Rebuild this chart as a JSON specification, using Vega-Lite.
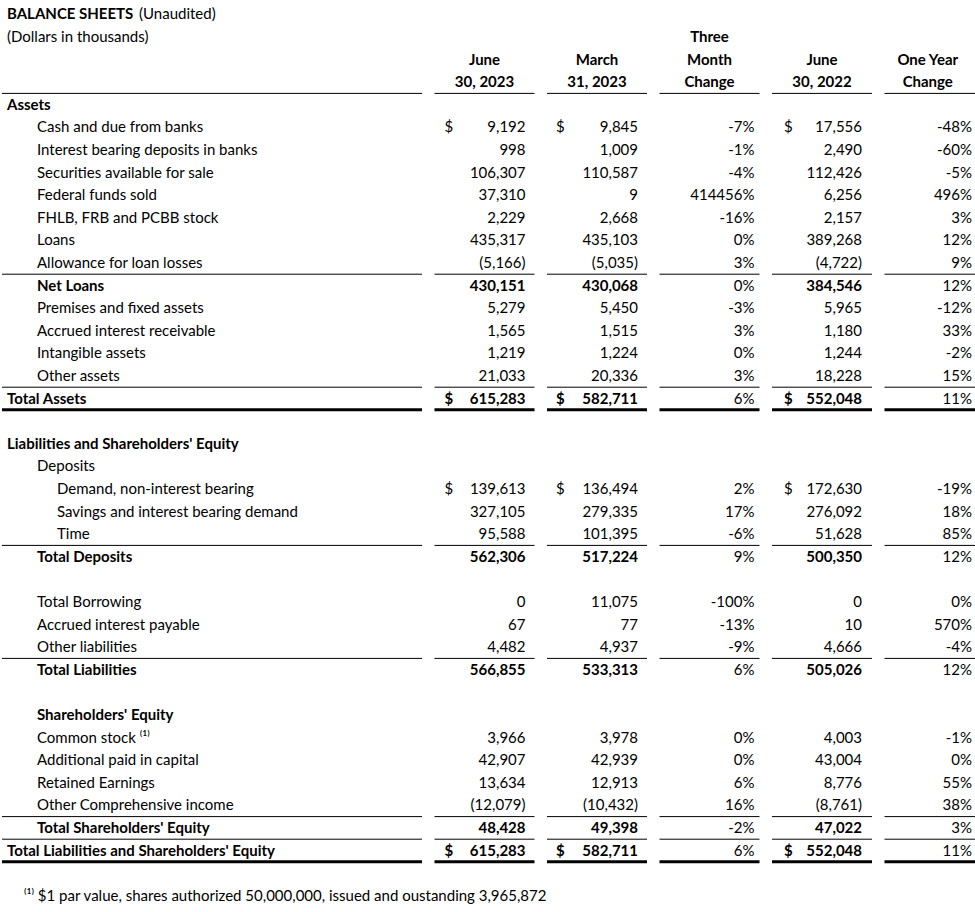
{
  "$schema": "https://vega.github.io/schema/vega-lite/v6.json",
  "background": "white",
  "padding": 0,
  "bounds": "flush",
  "spacing": 12.5,
  "datasets": {
    "rows": [
      {"r": -4, "label": "BALANCE SHEETS", "sub": "(Unaudited)", "kind": "title", "level": 0},
      {"r": -3, "label": "(Dollars in thousands)", "kind": "note", "level": 0},
      {"r": 0, "label": "Assets", "kind": "section", "level": 0},
      {"r": 1, "label": "Cash and due from banks", "kind": "item", "level": 1, "currency": "$", "jun23": 9192, "mar23": 9845, "chg3": -0.07, "jun22": 17556, "chg1": -0.48},
      {"r": 2, "label": "Interest bearing deposits in banks", "kind": "item", "level": 1, "jun23": 998, "mar23": 1009, "chg3": -0.01, "jun22": 2490, "chg1": -0.6},
      {"r": 3, "label": "Securities available for sale", "kind": "item", "level": 1, "jun23": 106307, "mar23": 110587, "chg3": -0.04, "jun22": 112426, "chg1": -0.05},
      {"r": 4, "label": "Federal funds sold", "kind": "item", "level": 1, "jun23": 37310, "mar23": 9, "chg3": 4144.56, "jun22": 6256, "chg1": 4.96},
      {"r": 5, "label": "FHLB, FRB and PCBB stock", "kind": "item", "level": 1, "jun23": 2229, "mar23": 2668, "chg3": -0.16, "jun22": 2157, "chg1": 0.03},
      {"r": 6, "label": "Loans", "kind": "item", "level": 1, "jun23": 435317, "mar23": 435103, "chg3": 0, "jun22": 389268, "chg1": 0.12},
      {"r": 7, "label": "Allowance for loan losses", "kind": "item", "level": 1, "jun23": -5166, "mar23": -5035, "chg3": 0.03, "jun22": -4722, "chg1": 0.09},
      {"r": 8, "label": "Net Loans", "kind": "total", "level": 1, "jun23": 430151, "mar23": 430068, "chg3": 0, "jun22": 384546, "chg1": 0.12},
      {"r": 9, "label": "Premises and fixed assets", "kind": "item", "level": 1, "jun23": 5279, "mar23": 5450, "chg3": -0.03, "jun22": 5965, "chg1": -0.12},
      {"r": 10, "label": "Accrued interest receivable", "kind": "item", "level": 1, "jun23": 1565, "mar23": 1515, "chg3": 0.03, "jun22": 1180, "chg1": 0.33},
      {"r": 11, "label": "Intangible assets", "kind": "item", "level": 1, "jun23": 1219, "mar23": 1224, "chg3": 0, "jun22": 1244, "chg1": -0.02},
      {"r": 12, "label": "Other assets", "kind": "item", "level": 1, "jun23": 21033, "mar23": 20336, "chg3": 0.03, "jun22": 18228, "chg1": 0.15},
      {"r": 13, "label": "Total Assets", "kind": "total", "level": 0, "currency": "$", "jun23": 615283, "mar23": 582711, "chg3": 0.06, "jun22": 552048, "chg1": 0.11},
      {"r": 15, "label": "Liabilities and Shareholders' Equity", "kind": "section", "level": 0},
      {"r": 16, "label": "Deposits", "kind": "item", "level": 1},
      {"r": 17, "label": "Demand, non-interest bearing", "kind": "item", "level": 2, "currency": "$", "jun23": 139613, "mar23": 136494, "chg3": 0.02, "jun22": 172630, "chg1": -0.19},
      {"r": 18, "label": "Savings and interest bearing demand", "kind": "item", "level": 2, "jun23": 327105, "mar23": 279335, "chg3": 0.17, "jun22": 276092, "chg1": 0.18},
      {"r": 19, "label": "Time", "kind": "item", "level": 2, "jun23": 95588, "mar23": 101395, "chg3": -0.06, "jun22": 51628, "chg1": 0.85},
      {"r": 20, "label": "Total Deposits", "kind": "total", "level": 1, "jun23": 562306, "mar23": 517224, "chg3": 0.09, "jun22": 500350, "chg1": 0.12},
      {"r": 22, "label": "Total Borrowing", "kind": "item", "level": 1, "jun23": 0, "mar23": 11075, "chg3": -1, "jun22": 0, "chg1": 0},
      {"r": 23, "label": "Accrued interest payable", "kind": "item", "level": 1, "jun23": 67, "mar23": 77, "chg3": -0.13, "jun22": 10, "chg1": 5.7},
      {"r": 24, "label": "Other liabilities", "kind": "item", "level": 1, "jun23": 4482, "mar23": 4937, "chg3": -0.09, "jun22": 4666, "chg1": -0.04},
      {"r": 25, "label": "Total Liabilities", "kind": "total", "level": 1, "jun23": 566855, "mar23": 533313, "chg3": 0.06, "jun22": 505026, "chg1": 0.12},
      {"r": 27, "label": "Shareholders' Equity", "kind": "section", "level": 1},
      {"r": 28, "label": "Common stock ⁽¹⁾", "kind": "item", "level": 1, "jun23": 3966, "mar23": 3978, "chg3": 0, "jun22": 4003, "chg1": -0.01},
      {"r": 29, "label": "Additional paid in capital", "kind": "item", "level": 1, "jun23": 42907, "mar23": 42939, "chg3": 0, "jun22": 43004, "chg1": 0},
      {"r": 30, "label": "Retained Earnings", "kind": "item", "level": 1, "jun23": 13634, "mar23": 12913, "chg3": 0.06, "jun22": 8776, "chg1": 0.55},
      {"r": 31, "label": "Other Comprehensive income", "kind": "item", "level": 1, "jun23": -12079, "mar23": -10432, "chg3": 0.16, "jun22": -8761, "chg1": 0.38},
      {"r": 32, "label": "Total Shareholders' Equity", "kind": "total", "level": 1, "jun23": 48428, "mar23": 49398, "chg3": -0.02, "jun22": 47022, "chg1": 0.03},
      {"r": 33, "label": "Total Liabilities and Shareholders' Equity", "kind": "total", "level": 0, "currency": "$", "jun23": 615283, "mar23": 582711, "chg3": 0.06, "jun22": 552048, "chg1": 0.11},
      {"r": 35, "label": "⁽¹⁾ $1 par value, shares authorized 50,000,000, issued and oustanding 3,965,872", "kind": "footnote", "level": 0}
    ],
    "headers": [
      {"col": "A", "r": -2, "text": "June"}, {"col": "A", "r": -1, "text": "30,  2023"},
      {"col": "B", "r": -2, "text": "March"}, {"col": "B", "r": -1, "text": "31,  2023"},
      {"col": "C", "r": -3, "text": "Three"}, {"col": "C", "r": -2, "text": "Month"}, {"col": "C", "r": -1, "text": "Change"},
      {"col": "D", "r": -2, "text": "June"}, {"col": "D", "r": -1, "text": "30,  2022"},
      {"col": "E", "r": -2, "text": "One Year"}, {"col": "E", "r": -1, "text": "Change"}
    ],
    "rules": [
      {"r": -1, "underline": "single"},
      {"r": 7, "underline": "single"},
      {"r": 12, "underline": "single"},
      {"r": 13, "underline": "double"},
      {"r": 19, "underline": "single"},
      {"r": 24, "underline": "single"},
      {"r": 31, "underline": "single"},
      {"r": 32, "underline": "single"},
      {"r": 33, "underline": "double"}
    ]
  },
  "hconcat": [
    {
      "width": 420, "height": 912,
      "encoding": {"y": {"field": "r", "type": "ordinal", "axis": null, "scale": {"type": "band", "domain": [-4,-3,-2,-1,0,1,2,3,4,5,6,7,8,9,10,11,12,13,14,15,16,17,18,19,20,21,22,23,24,25,26,27,28,29,30,31,32,33,34,35], "range": [3, 907], "paddingInner": 0, "paddingOuter": 0}}},
      "layer": [
        {"data": {"name": "rows"}, "transform": [{"filter": "datum.kind == 'item' || datum.kind == 'note'"}],
         "mark": {"type": "text", "align": "left"},
         "encoding": {"x": {"field": "level", "type": "quantitative", "axis": null, "scale": {"domain": [0, 1, 2], "range": [5, 35, 55], "nice": false, "zero": false}}, "text": {"field": "label"}}},
        {"data": {"name": "rows"}, "transform": [{"filter": "datum.kind == 'footnote'"}],
         "mark": {"type": "text", "align": "left", "dx": 17},
         "encoding": {"x": {"field": "level", "type": "quantitative", "axis": null}, "text": {"field": "label"}}},
        {"data": {"name": "rows"}, "transform": [{"filter": "datum.kind == 'title' || datum.kind == 'section' || datum.kind == 'total'"}],
         "mark": {"type": "text", "align": "left", "fontWeight": "bold"},
         "encoding": {"x": {"field": "level", "type": "quantitative", "axis": null}, "text": {"field": "label"}}},
        {"data": {"name": "rows"}, "transform": [{"filter": "isValid(datum.sub)"}],
         "mark": {"type": "text", "align": "left", "dx": 132},
         "encoding": {"x": {"field": "level", "type": "quantitative", "axis": null}, "text": {"field": "sub"}}},
        {"data": {"name": "rules"}, "mark": {"type": "rule", "color": "black"},
         "encoding": {"y": {"field": "r", "type": "ordinal", "bandPosition": 1}, "strokeWidth": {"field": "underline", "type": "nominal", "legend": null, "scale": {"domain": ["single", "double"], "range": [1, 3]}}}}
      ]
    },
    {
      "width": 100, "height": 912,
      "encoding": {"y": {"field": "r", "type": "ordinal", "axis": null, "scale": {"type": "band", "domain": [-4,-3,-2,-1,0,1,2,3,4,5,6,7,8,9,10,11,12,13,14,15,16,17,18,19,20,21,22,23,24,25,26,27,28,29,30,31,32,33,34,35], "range": [3, 907], "paddingInner": 0, "paddingOuter": 0}}},
      "layer": [
        {"data": {"name": "headers"}, "transform": [{"filter": "datum.col == 'A'"}], "mark": {"type": "text", "fontWeight": "bold"}, "encoding": {"text": {"field": "text"}}},
        {"data": {"name": "rows"}, "transform": [{"filter": "isValid(datum.jun23) && datum.kind != 'total'"}], "mark": {"type": "text", "align": "right", "x": "width", "dx": -9}, "encoding": {"text": {"field": "jun23", "type": "quantitative", "format": "(,"}}},
        {"data": {"name": "rows"}, "transform": [{"filter": "isValid(datum.jun23) && datum.kind == 'total'"}], "mark": {"type": "text", "align": "right", "x": "width", "dx": -9, "fontWeight": "bold"}, "encoding": {"text": {"field": "jun23", "type": "quantitative", "format": "(,"}}},
        {"data": {"name": "rows"}, "transform": [{"filter": "isValid(datum.currency) && datum.kind != 'total'"}], "mark": {"type": "text", "align": "left", "x": 0, "dx": 10}, "encoding": {"text": {"field": "currency"}}},
        {"data": {"name": "rows"}, "transform": [{"filter": "isValid(datum.currency) && datum.kind == 'total'"}], "mark": {"type": "text", "align": "left", "x": 0, "dx": 10, "fontWeight": "bold"}, "encoding": {"text": {"field": "currency"}}},
        {"data": {"name": "rules"}, "mark": {"type": "rule", "color": "black"},
         "encoding": {"y": {"field": "r", "type": "ordinal", "bandPosition": 1}, "strokeWidth": {"field": "underline", "type": "nominal", "legend": null, "scale": {"domain": ["single", "double"], "range": [1, 3]}}}}
      ]
    },
    {
      "width": 100, "height": 912,
      "encoding": {"y": {"field": "r", "type": "ordinal", "axis": null, "scale": {"type": "band", "domain": [-4,-3,-2,-1,0,1,2,3,4,5,6,7,8,9,10,11,12,13,14,15,16,17,18,19,20,21,22,23,24,25,26,27,28,29,30,31,32,33,34,35], "range": [3, 907], "paddingInner": 0, "paddingOuter": 0}}},
      "layer": [
        {"data": {"name": "headers"}, "transform": [{"filter": "datum.col == 'B'"}], "mark": {"type": "text", "fontWeight": "bold"}, "encoding": {"text": {"field": "text"}}},
        {"data": {"name": "rows"}, "transform": [{"filter": "isValid(datum.mar23) && datum.kind != 'total'"}], "mark": {"type": "text", "align": "right", "x": "width", "dx": -9}, "encoding": {"text": {"field": "mar23", "type": "quantitative", "format": "(,"}}},
        {"data": {"name": "rows"}, "transform": [{"filter": "isValid(datum.mar23) && datum.kind == 'total'"}], "mark": {"type": "text", "align": "right", "x": "width", "dx": -9, "fontWeight": "bold"}, "encoding": {"text": {"field": "mar23", "type": "quantitative", "format": "(,"}}},
        {"data": {"name": "rows"}, "transform": [{"filter": "isValid(datum.currency) && datum.kind != 'total'"}], "mark": {"type": "text", "align": "left", "x": 0, "dx": 9}, "encoding": {"text": {"field": "currency"}}},
        {"data": {"name": "rows"}, "transform": [{"filter": "isValid(datum.currency) && datum.kind == 'total'"}], "mark": {"type": "text", "align": "left", "x": 0, "dx": 9, "fontWeight": "bold"}, "encoding": {"text": {"field": "currency"}}},
        {"data": {"name": "rules"}, "mark": {"type": "rule", "color": "black"},
         "encoding": {"y": {"field": "r", "type": "ordinal", "bandPosition": 1}, "strokeWidth": {"field": "underline", "type": "nominal", "legend": null, "scale": {"domain": ["single", "double"], "range": [1, 3]}}}}
      ]
    },
    {
      "width": 100, "height": 912,
      "encoding": {"y": {"field": "r", "type": "ordinal", "axis": null, "scale": {"type": "band", "domain": [-4,-3,-2,-1,0,1,2,3,4,5,6,7,8,9,10,11,12,13,14,15,16,17,18,19,20,21,22,23,24,25,26,27,28,29,30,31,32,33,34,35], "range": [3, 907], "paddingInner": 0, "paddingOuter": 0}}},
      "layer": [
        {"data": {"name": "headers"}, "transform": [{"filter": "datum.col == 'C'"}], "mark": {"type": "text", "fontWeight": "bold"}, "encoding": {"text": {"field": "text"}}},
        {"data": {"name": "rows"}, "transform": [{"filter": "isValid(datum.chg3)"}], "mark": {"type": "text", "align": "right", "x": "width", "dx": -5}, "encoding": {"text": {"field": "chg3", "type": "quantitative", "format": ".0%"}}},
        {"data": {"name": "rules"}, "mark": {"type": "rule", "color": "black"},
         "encoding": {"y": {"field": "r", "type": "ordinal", "bandPosition": 1}, "strokeWidth": {"field": "underline", "type": "nominal", "legend": null, "scale": {"domain": ["single", "double"], "range": [1, 3]}}}}
      ]
    },
    {
      "width": 100, "height": 912,
      "encoding": {"y": {"field": "r", "type": "ordinal", "axis": null, "scale": {"type": "band", "domain": [-4,-3,-2,-1,0,1,2,3,4,5,6,7,8,9,10,11,12,13,14,15,16,17,18,19,20,21,22,23,24,25,26,27,28,29,30,31,32,33,34,35], "range": [3, 907], "paddingInner": 0, "paddingOuter": 0}}},
      "layer": [
        {"data": {"name": "headers"}, "transform": [{"filter": "datum.col == 'D'"}], "mark": {"type": "text", "fontWeight": "bold"}, "encoding": {"text": {"field": "text"}}},
        {"data": {"name": "rows"}, "transform": [{"filter": "isValid(datum.jun22) && datum.kind != 'total'"}], "mark": {"type": "text", "align": "right", "x": "width", "dx": -10}, "encoding": {"text": {"field": "jun22", "type": "quantitative", "format": "(,"}}},
        {"data": {"name": "rows"}, "transform": [{"filter": "isValid(datum.jun22) && datum.kind == 'total'"}], "mark": {"type": "text", "align": "right", "x": "width", "dx": -10, "fontWeight": "bold"}, "encoding": {"text": {"field": "jun22", "type": "quantitative", "format": "(,"}}},
        {"data": {"name": "rows"}, "transform": [{"filter": "isValid(datum.currency) && datum.kind != 'total'"}], "mark": {"type": "text", "align": "left", "x": 0, "dx": 12}, "encoding": {"text": {"field": "currency"}}},
        {"data": {"name": "rows"}, "transform": [{"filter": "isValid(datum.currency) && datum.kind == 'total'"}], "mark": {"type": "text", "align": "left", "x": 0, "dx": 12, "fontWeight": "bold"}, "encoding": {"text": {"field": "currency"}}},
        {"data": {"name": "rules"}, "mark": {"type": "rule", "color": "black"},
         "encoding": {"y": {"field": "r", "type": "ordinal", "bandPosition": 1}, "strokeWidth": {"field": "underline", "type": "nominal", "legend": null, "scale": {"domain": ["single", "double"], "range": [1, 3]}}}}
      ]
    },
    {
      "width": 92.5, "height": 912,
      "encoding": {"y": {"field": "r", "type": "ordinal", "axis": null, "scale": {"type": "band", "domain": [-4,-3,-2,-1,0,1,2,3,4,5,6,7,8,9,10,11,12,13,14,15,16,17,18,19,20,21,22,23,24,25,26,27,28,29,30,31,32,33,34,35], "range": [3, 907], "paddingInner": 0, "paddingOuter": 0}}},
      "layer": [
        {"data": {"name": "headers"}, "transform": [{"filter": "datum.col == 'E'"}], "mark": {"type": "text", "fontWeight": "bold", "dx": -3}, "encoding": {"text": {"field": "text"}}},
        {"data": {"name": "rows"}, "transform": [{"filter": "isValid(datum.chg1)"}], "mark": {"type": "text", "align": "right", "x": "width", "dx": -5}, "encoding": {"text": {"field": "chg1", "type": "quantitative", "format": ".0%"}}},
        {"data": {"name": "rules"}, "mark": {"type": "rule", "color": "black"},
         "encoding": {"y": {"field": "r", "type": "ordinal", "bandPosition": 1}, "strokeWidth": {"field": "underline", "type": "nominal", "legend": null, "scale": {"domain": ["single", "double"], "range": [1, 3]}}}}
      ]
    }
  ],
  "config": {
    "view": {"stroke": null},
    "text": {"font": "Lato", "fontSize": 15, "color": "#000000"},
    "locale": {"number": {"decimal": ".", "thousands": ",", "grouping": [3], "currency": ["$", ""], "minus": "-"}}
  }
}
